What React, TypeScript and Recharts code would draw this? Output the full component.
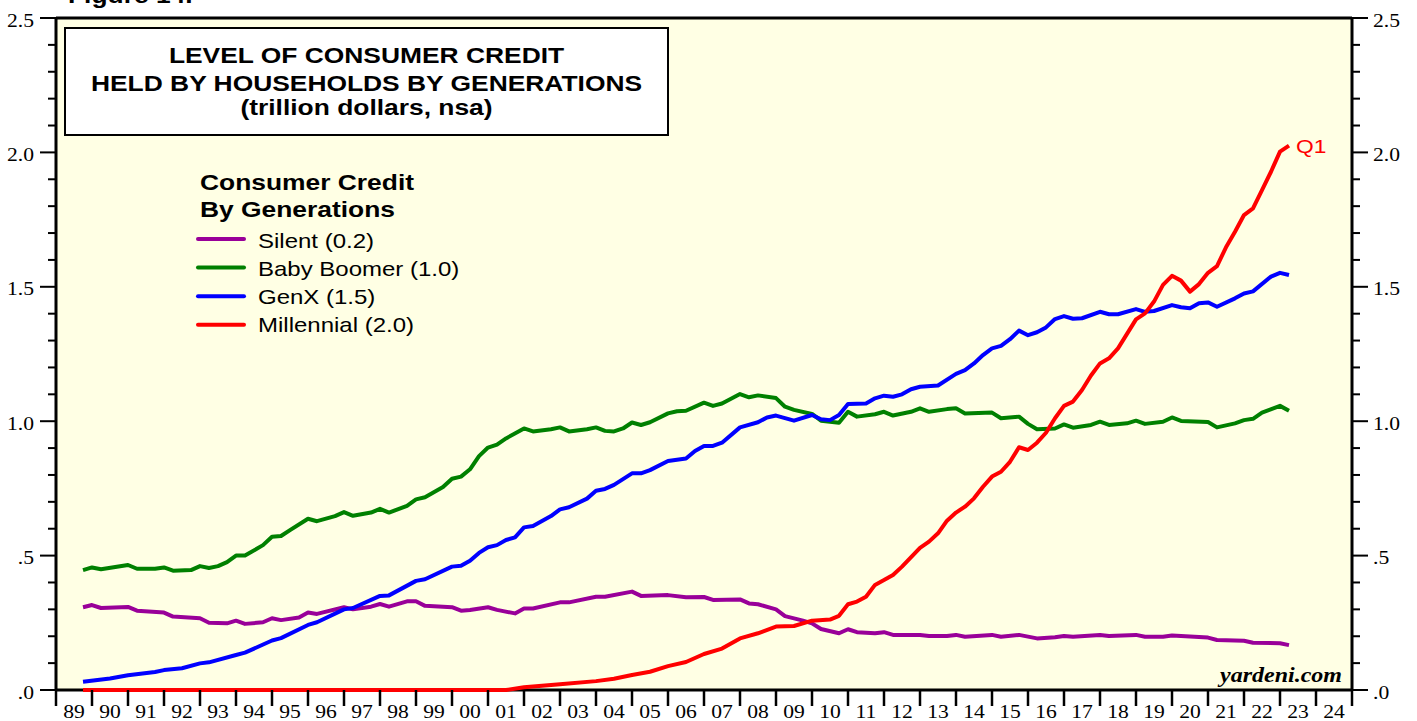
import { CartesianGrid, Line, LineChart, XAxis, YAxis } from "recharts";

// Consumer credit held by households, by generation (trillion $, nsa).
// Quarterly readings taken off the Yardeni chart, x = fractional year.

const silentYears = [1989.75, 1990, 1990.25, 1991, 1991.25, 1992, 1992.25, 1993, 1993.25, 1993.75, 1994, 1994.25, 1994.75, 1995, 1995.25, 1995.75, 1996, 1996.25, 1997, 1997.25, 1997.75, 1998, 1998.25, 1998.75, 1999, 1999.25, 2000, 2000.25, 2000.5, 2001, 2001.25, 2001.75, 2002, 2002.25, 2003, 2003.25, 2004, 2004.25, 2005, 2005.25, 2006, 2006.5, 2007, 2007.25, 2008, 2008.25, 2008.5, 2009, 2009.25, 2009.75, 2010, 2010.25, 2010.75, 2011, 2011.25, 2011.75, 2012, 2012.25, 2013, 2013.25, 2013.75, 2014, 2014.25, 2015, 2015.25, 2015.75, 2016.25, 2016.75, 2017, 2017.25, 2018, 2018.25, 2019, 2019.25, 2019.75, 2020, 2021, 2021.25, 2022, 2022.25, 2023, 2023.25];
const silentValues = [0.308, 0.316, 0.305, 0.309, 0.295, 0.288, 0.273, 0.267, 0.25, 0.248, 0.258, 0.246, 0.252, 0.267, 0.26, 0.27, 0.288, 0.283, 0.308, 0.3, 0.31, 0.32, 0.31, 0.33, 0.33, 0.313, 0.308, 0.295, 0.298, 0.308, 0.298, 0.285, 0.303, 0.303, 0.326, 0.326, 0.347, 0.347, 0.366, 0.35, 0.353, 0.345, 0.346, 0.335, 0.337, 0.322, 0.319, 0.3, 0.275, 0.258, 0.248, 0.227, 0.211, 0.226, 0.215, 0.211, 0.215, 0.205, 0.205, 0.201, 0.201, 0.205, 0.198, 0.205, 0.198, 0.205, 0.192, 0.196, 0.201, 0.198, 0.205, 0.201, 0.205, 0.198, 0.198, 0.203, 0.195, 0.186, 0.183, 0.176, 0.174, 0.167];

const boomerYears = [1989.75, 1990, 1990.25, 1991, 1991.25, 1991.75, 1992, 1992.25, 1992.75, 1993, 1993.25, 1993.5, 1993.75, 1994, 1994.25, 1994.75, 1995, 1995.25, 1995.5, 1996, 1996.25, 1996.75, 1997, 1997.25, 1997.75, 1998, 1998.25, 1998.75, 1999, 1999.25, 1999.75, 2000, 2000.25, 2000.5, 2000.75, 2001, 2001.25, 2001.5, 2002, 2002.25, 2002.75, 2003, 2003.25, 2003.75, 2004, 2004.25, 2004.5, 2004.75, 2005, 2005.25, 2005.5, 2006, 2006.25, 2006.5, 2007, 2007.25, 2007.5, 2008, 2008.25, 2008.5, 2009, 2009.25, 2009.5, 2010, 2010.25, 2010.75, 2011, 2011.25, 2011.75, 2012, 2012.25, 2012.75, 2013, 2013.25, 2013.75, 2014, 2014.25, 2015, 2015.25, 2015.75, 2016, 2016.25, 2016.75, 2017, 2017.25, 2017.75, 2018, 2018.25, 2018.75, 2019, 2019.25, 2019.75, 2020, 2020.25, 2021, 2021.25, 2021.75, 2022, 2022.25, 2022.5, 2023, 2023.25];
const boomerValues = [0.446, 0.456, 0.449, 0.465, 0.451, 0.451, 0.456, 0.444, 0.446, 0.461, 0.454, 0.461, 0.476, 0.5, 0.5, 0.539, 0.57, 0.573, 0.595, 0.637, 0.628, 0.647, 0.662, 0.648, 0.66, 0.674, 0.66, 0.685, 0.709, 0.717, 0.755, 0.786, 0.794, 0.821, 0.87, 0.902, 0.913, 0.936, 0.973, 0.962, 0.97, 0.977, 0.962, 0.97, 0.977, 0.964, 0.962, 0.973, 0.995, 0.986, 0.996, 1.029, 1.037, 1.039, 1.069, 1.057, 1.066, 1.101, 1.089, 1.096, 1.086, 1.054, 1.042, 1.027, 1.002, 0.994, 1.035, 1.017, 1.026, 1.035, 1.021, 1.035, 1.048, 1.035, 1.045, 1.048, 1.029, 1.032, 1.011, 1.017, 0.99, 0.97, 0.973, 0.988, 0.976, 0.986, 0.998, 0.986, 0.992, 1.002, 0.99, 0.998, 1.014, 1.001, 0.997, 0.977, 0.992, 1.004, 1.009, 1.032, 1.057, 1.039];

const genxYears = [1989.75, 1990.5, 1991, 1991.75, 1992, 1992.5, 1993, 1993.25, 1994, 1994.25, 1995, 1995.25, 1996, 1996.25, 1997, 1997.25, 1998, 1998.25, 1999, 1999.25, 2000, 2000.25, 2000.5, 2000.75, 2001, 2001.25, 2001.5, 2001.75, 2002, 2002.25, 2002.75, 2003, 2003.25, 2003.75, 2004, 2004.25, 2004.5, 2005, 2005.25, 2005.5, 2006, 2006.5, 2006.75, 2007, 2007.25, 2007.5, 2008, 2008.5, 2008.75, 2009, 2009.5, 2010, 2010.25, 2010.5, 2010.75, 2011, 2011.5, 2011.75, 2012, 2012.25, 2012.5, 2012.75, 2013, 2013.5, 2014, 2014.25, 2014.5, 2014.75, 2015, 2015.25, 2015.5, 2015.75, 2016, 2016.25, 2016.5, 2016.75, 2017, 2017.25, 2017.5, 2018, 2018.25, 2018.5, 2019, 2019.25, 2019.5, 2020, 2020.25, 2020.5, 2020.75, 2021, 2021.25, 2021.75, 2022, 2022.25, 2022.75, 2023, 2023.25];
const genxValues = [0.031, 0.043, 0.055, 0.067, 0.074, 0.081, 0.099, 0.103, 0.13, 0.139, 0.184, 0.193, 0.242, 0.252, 0.3, 0.305, 0.35, 0.352, 0.406, 0.412, 0.459, 0.462, 0.481, 0.51, 0.531, 0.539, 0.558, 0.568, 0.605, 0.61, 0.647, 0.672, 0.68, 0.712, 0.741, 0.748, 0.763, 0.806, 0.806, 0.818, 0.852, 0.861, 0.889, 0.908, 0.908, 0.92, 0.977, 0.996, 1.014, 1.021, 1.002, 1.023, 1.007, 1.004, 1.023, 1.064, 1.066, 1.085, 1.095, 1.091, 1.1, 1.119, 1.128, 1.133, 1.176, 1.19, 1.215, 1.246, 1.271, 1.28, 1.305, 1.337, 1.32, 1.331, 1.349, 1.38, 1.391, 1.381, 1.383, 1.407, 1.398, 1.398, 1.417, 1.407, 1.41, 1.432, 1.424, 1.42, 1.439, 1.442, 1.426, 1.457, 1.475, 1.483, 1.538, 1.552, 1.544];

const millennialYears = [1989.75, 2001.5, 2002, 2003, 2004, 2004.5, 2005, 2005.5, 2006, 2006.5, 2007, 2007.5, 2008, 2008.5, 2009, 2009.5, 2010, 2010.5, 2010.75, 2011, 2011.25, 2011.5, 2011.75, 2012, 2012.25, 2012.5, 2013, 2013.25, 2013.5, 2013.75, 2014, 2014.25, 2014.5, 2014.75, 2015, 2015.25, 2015.5, 2015.75, 2016, 2016.25, 2016.5, 2016.75, 2017, 2017.25, 2017.5, 2017.75, 2018, 2018.25, 2018.5, 2019, 2019.25, 2019.5, 2019.75, 2020, 2020.25, 2020.5, 2020.75, 2021, 2021.25, 2021.5, 2021.75, 2022, 2022.25, 2022.5, 2022.75, 2023, 2023.25];
const millennialValues = [0, 0, 0.01, 0.021, 0.033, 0.042, 0.056, 0.068, 0.089, 0.104, 0.134, 0.154, 0.192, 0.211, 0.236, 0.238, 0.258, 0.262, 0.276, 0.319, 0.329, 0.347, 0.391, 0.409, 0.428, 0.459, 0.529, 0.552, 0.583, 0.63, 0.66, 0.682, 0.713, 0.756, 0.794, 0.812, 0.849, 0.903, 0.893, 0.92, 0.957, 1.011, 1.057, 1.073, 1.116, 1.17, 1.215, 1.234, 1.271, 1.379, 1.401, 1.445, 1.507, 1.541, 1.523, 1.482, 1.51, 1.552, 1.577, 1.647, 1.705, 1.767, 1.792, 1.86, 1.928, 2.003, 2.025];

const seriesNames = ["Silent (0.2)", "Baby Boomer (1.0)", "GenX (1.5)", "Millennial (2.0)"];
const yearLabels = ["89", "90", "91", "92", "93", "94", "95", "96", "97", "98", "99", "00", "01", "02", "03", "04", "05", "06", "07", "08", "09", "10", "11", "12", "13", "14", "15", "16", "17", "18", "19", "20", "21", "22", "23", "24"];
const yMajorLabels = [".0", ".5", "1.0", "1.5", "2.0", "2.5"];
const titleLines = ["LEVEL OF CONSUMER CREDIT", "HELD BY HOUSEHOLDS BY GENERATIONS", "(trillion dollars, nsa)"];
const endLabel = "Q1";

const COLORS = ["#990099", "#008000", "#0000ff", "#ff0000"];
const BG = "#ffffe4";
const SANS = "'Liberation Sans', Arial, sans-serif";
const SERIF = "'Liberation Serif', 'Times New Roman', serif";
const SX = 1.2; // the source picture is stretched sideways

const W = 1417;
const H = 721;
const PLOT_LEFT = 56;
const PLOT_RIGHT = 1352;
const FIRST_YEAR = 1989;
const LAST_YEAR = 2025;
const YEAR_PX = (PLOT_RIGHT - PLOT_LEFT) / (LAST_YEAR - FIRST_YEAR);
const Y_MAX = 2.5;

const zip = (ts: number[], vs: number[]) => ts.map((t, i) => ({ t, v: vs[i] }));
const series = [
  zip(silentYears, silentValues),
  zip(boomerYears, boomerValues),
  zip(genxYears, genxValues),
  zip(millennialYears, millennialValues),
];
// silent sits on the right axis so that axis gets a scale (same 0–2.5 domain)
const axisFor = ["right", "left", "left", "left"];

const yTicks = Array.from({ length: 26 }, (_, i) => i / 10);
const xTicks = Array.from({ length: LAST_YEAR - FIRST_YEAR + 1 }, (_, i) => FIRST_YEAR + i);

function SText({ x, y, size, anchor = "start", weight = "normal", family = SANS, fill = "#000", italic = false, children }: any) {
  return (
    <text
      transform={`translate(${x} ${y}) scale(${SX} 1)`}
      textAnchor={anchor}
      fontSize={size}
      fontWeight={weight}
      fontStyle={italic ? "italic" : "normal"}
      fontFamily={family}
      fill={fill}
    >
      {children}
    </text>
  );
}

function majorIndex(v: number) {
  const tenths = Math.round(v * 10);
  return tenths % 5 === 0 ? tenths / 5 : -1;
}

function LeftTick({ x, y, payload }: any) {
  const m = majorIndex(payload.value);
  return (
    <g>
      <line x1={x - (m >= 0 ? 16 : 8)} x2={x} y1={y} y2={y} stroke="#000" strokeWidth={2} />
      {m >= 0 && (
        <SText x={x - 22} y={y + 8.5} size={18} anchor="end" family={SERIF}>
          {yMajorLabels[m]}
        </SText>
      )}
    </g>
  );
}

function RightTick({ x, y, payload }: any) {
  const m = majorIndex(payload.value);
  return (
    <g>
      <line x1={x} x2={x + (m >= 0 ? 16 : 8)} y1={y} y2={y} stroke="#000" strokeWidth={2} />
      {m >= 0 && (
        <SText x={x + 21} y={y + 8.5} size={18} family={SERIF}>
          {yMajorLabels[m]}
        </SText>
      )}
    </g>
  );
}

function YearTick({ x, y, payload }: any) {
  const idx = payload.value - FIRST_YEAR;
  return (
    <g>
      <line x1={x} x2={x} y1={y} y2={y + 16} stroke="#000" strokeWidth={2.5} />
      {idx < yearLabels.length && (
        <SText x={x + YEAR_PX / 2} y={y + 28} size={18} anchor="middle" family={SERIF}>
          {yearLabels[idx]}
        </SText>
      )}
    </g>
  );
}

function EndLabel(props: any) {
  const { x, y, index } = props;
  if (index !== millennialYears.length - 1) return null;
  return (
    <SText x={x + 7} y={y + 7.5} size={19} fill={COLORS[3]}>
      {endLabel}
    </SText>
  );
}

function Overlay() {
  return (
    <svg width={W} height={H} style={{ position: "absolute", left: 0, top: 0, pointerEvents: "none" }}>
      <SText x={68} y={3} size={22} weight="bold">Figure 14.</SText>
      <rect x={65} y={28} width={603} height={107} fill="#fff" stroke="#000" strokeWidth={2} />
      {titleLines.map((line, i) => (
        <SText key={line} x={366.5} y={[62.5, 90.5, 115][i]} size={22} weight="bold" anchor="middle">
          {line}
        </SText>
      ))}
      <SText x={200} y={190} size={22} weight="bold">Consumer Credit</SText>
      <SText x={200} y={217} size={22} weight="bold">By Generations</SText>
      {seriesNames.map((name, i) => (
        <g key={name}>
          <line x1={198} x2={244} y1={239 + i * 28.6} y2={239 + i * 28.6} stroke={COLORS[i]} strokeWidth={4} strokeLinecap="round" />
          <SText x={258} y={247.5 + i * 28.3} size={20}>{name}</SText>
        </g>
      ))}
      <SText x={1342} y={682} size={20} weight="bold" italic family={SERIF} anchor="end">
        yardeni.com
      </SText>
    </svg>
  );
}

export default function App() {
  return (
    <div style={{ position: "absolute", left: 0, top: 0, width: W, height: H, background: "#fff" }}>
      <LineChart width={W} height={H} margin={{ top: 18, right: 0, bottom: 0, left: 0 }}>
        {/* background + top/bottom frame lines; drawn under the series */}
        <CartesianGrid
          yAxisId="left"
          vertical={false}
          horizontalValues={[0, Y_MAX]}
          stroke="#000"
          strokeWidth={3}
          fill={BG}
        />
        <XAxis
          type="number"
          dataKey="t"
          domain={[FIRST_YEAR, LAST_YEAR]}
          ticks={xTicks}
          interval={0}
          tick={<YearTick />}
          tickLine={false}
          tickSize={0}
          tickMargin={0}
          height={31}
          axisLine={false}
        />
        <YAxis
          yAxisId="left"
          type="number"
          domain={[0, Y_MAX]}
          ticks={yTicks}
          interval={0}
          tick={<LeftTick />}
          tickLine={false}
          tickSize={0}
          tickMargin={0}
          width={PLOT_LEFT}
          axisLine={{ stroke: "#000", strokeWidth: 3 }}
        />
        <YAxis
          yAxisId="right"
          orientation="right"
          type="number"
          domain={[0, Y_MAX]}
          ticks={yTicks}
          interval={0}
          tick={<RightTick />}
          tickLine={false}
          tickSize={0}
          tickMargin={0}
          width={W - PLOT_RIGHT}
          axisLine={{ stroke: "#000", strokeWidth: 3 }}
        />
        {series.map((data, i) => (
          <Line
            key={seriesNames[i]}
            yAxisId={axisFor[i]}
            data={data}
            dataKey="v"
            type="linear"
            stroke={COLORS[i]}
            strokeWidth={4}
            strokeLinejoin="round"
            dot={false}
            activeDot={false}
            isAnimationActive={false}
            label={i === 3 ? <EndLabel /> : undefined}
          />
        ))}
      </LineChart>
      <Overlay />
    </div>
  );
}
